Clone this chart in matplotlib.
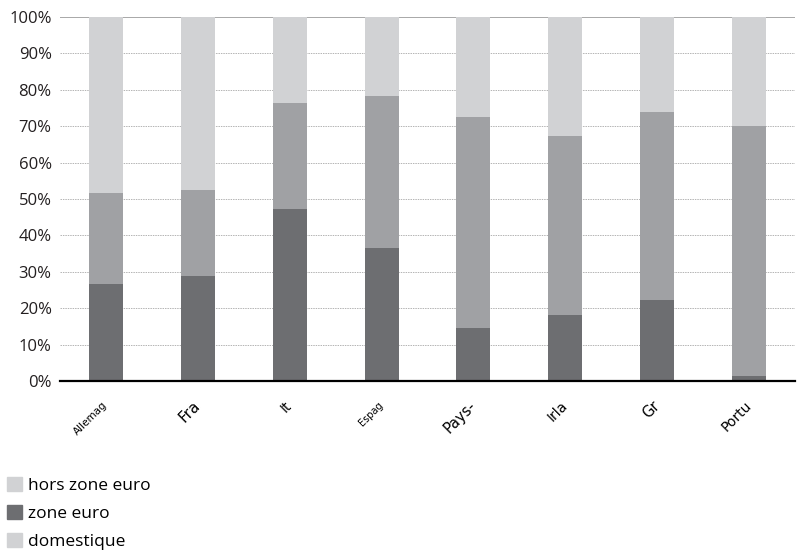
import matplotlib.pyplot as plt
import numpy as np
from matplotlib.patches import Patch

# pays (labels tronqués comme dans l'original)
pays = ['Allemag', 'Fra', 'It', 'Espag', 'Pays-', 'Irla', 'Gr', 'Portu']
label_sizes = [7.5, 11, 10, 7, 10.5, 10, 10.5, 10]

# parts en %, de bas en haut
zone_euro = [26.6, 28.8, 47.3, 36.6, 14.6, 18.1, 22.3, 1.4]
domestique = [25.0, 23.7, 29.1, 41.8, 58.0, 49.3, 51.7, 68.7]
hors_zone = [100 - a - b for a, b in zip(zone_euro, domestique)]

yticks = np.arange(0, 101, 10)
ytick_labels = [f'{v}%' for v in yticks]

c_dark = '#6d6e71'
c_mid = '#a0a1a4'
c_light = '#d1d2d4'

plt.rcParams['font.family'] = ['Open Sans', 'DejaVu Sans']

fig = plt.figure(figsize=(8.12, 5.59), dpi=100)
ax = fig.add_axes([60 / 812, 1 - 381 / 559, 735 / 812, 364 / 559])

x = np.arange(len(pays))
w = 0.37
bottom2 = np.array(zone_euro)
bottom3 = bottom2 + np.array(domestique)
ax.bar(x, zone_euro, w, color=c_dark, zorder=3)
ax.bar(x, domestique, w, bottom=bottom2, color=c_mid, zorder=3)
ax.bar(x, hors_zone, w, bottom=bottom3, color=c_light, zorder=3)

ax.set_xlim(-0.5, len(pays) - 0.5)
ax.set_ylim(0, 100)

ax.set_yticks(yticks)
ax.set_yticklabels(ytick_labels, fontsize=12, color='#231f20')
for v in yticks[1:-1]:
    ax.axhline(v, color='#b4b4b4', lw=0.7, ls=(0, (1.5, 1)), zorder=1)
ax.axhline(100, color='#999999', lw=1.2, zorder=1)

ax.set_xticks(x)
ax.set_xticklabels(pays, rotation=45, ha='right',
                   va='center', rotation_mode='anchor')
for lab, s in zip(ax.get_xticklabels(), label_sizes):
    lab.set_fontsize(s)
    lab.set_family('DejaVu Sans')
ax.tick_params(axis='x', length=0, pad=16)
ax.tick_params(axis='y', length=0, pad=6)

for side in ['top', 'right', 'left']:
    ax.spines[side].set_visible(False)
ax.spines['bottom'].set_linewidth(1.6)
ax.spines['bottom'].set_color('black')
ax.spines['bottom'].set_zorder(4)

handles = [Patch(color=c_light), Patch(color=c_dark), Patch(color=c_light)]
fig.legend(handles, ['hors zone euro', 'zone euro', 'domestique'],
           loc='upper left', bbox_to_anchor=(0.0, 1 - 470 / 559),
           frameon=False, fontsize=12.5, handlelength=0.85, handleheight=0.9,
           handletextpad=0.35, labelspacing=0.62, borderaxespad=0.0,
           borderpad=0.4)

fig.savefig('out.png', dpi=100)
